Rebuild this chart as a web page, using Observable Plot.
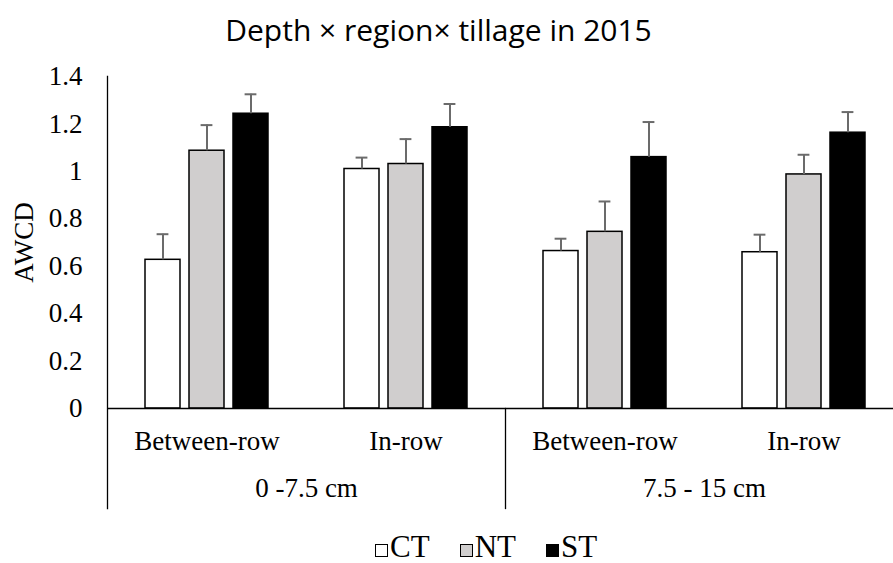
<!DOCTYPE html>
<html><head><meta charset="utf-8">
<script src="https://cdn.jsdelivr.net/npm/d3@7"></script>
<script src="https://cdn.jsdelivr.net/npm/@observablehq/plot@0.6"></script>
<style>
body{margin:0;background:#fff;overflow:hidden}
#wrap{position:relative;width:893px;height:563px;overflow:hidden;background:#fff}
#title{position:absolute;left:-8px;width:893px;top:10px;text-align:center;font-family:"Open Sans",sans-serif;font-size:30px;color:#000;line-height:40px}
#chart{position:absolute;left:0;top:56px}
#legend{position:absolute;top:533px;left:375px;display:flex;align-items:center;font-family:"Liberation Serif","Times New Roman",serif;font-size:31px;color:#000;line-height:28px;height:28px}
.item{display:flex;align-items:center;margin-right:30px}
.sw{width:13px;height:13px;border:1px solid #000;margin-right:2px;box-sizing:border-box;position:relative;top:3px}
</style></head>
<body>
<div id="wrap">
<div id="title">Depth × region× tillage in 2015</div>
<div id="chart"></div>
<div id="legend"></div>
</div>
<script>
const depths = ["0 -7.5 cm", "7.5 - 15 cm"];
const regions = ["Between-row", "In-row"];
const tillages = ["CT", "NT", "ST"];
const fills = ["#ffffff", "#d0cece", "#000000"];
const CT = [0.627, 1.010, 0.664, 0.659];
const NT = [1.087, 1.031, 0.745, 0.987];
const ST = [1.243, 1.186, 1.060, 1.163];
const CT_err = [0.108, 0.048, 0.052, 0.074];
const NT_err = [0.108, 0.105, 0.128, 0.083];
const ST_err = [0.082, 0.098, 0.148, 0.087];
const yTicks = [0, 0.2, 0.4, 0.6, 0.8, 1, 1.2, 1.4];
const yTickLabels = ["0", "0.2", "0.4", "0.6", "0.8", "1", "1.2", "1.4"];

const series = {CT, NT, ST};
const errs = {CT: CT_err, NT: NT_err, ST: ST_err};
const groups = [];
const regionOf = {};
depths.forEach(d => regions.forEach(r => { const k = d + "|" + r; groups.push(k); regionOf[k] = r; }));
const rows = [];
groups.forEach((g, i) => tillages.forEach(t => rows.push({group: g, tillage: t, value: series[t][i], upper: series[t][i] + errs[t][i]})));
const depthRows = depths.map((d, i) => ({group: groups[i * 2], depth: d}));

const chart = Plot.plot({
  width: 893, height: 470,
  marginLeft: 106, marginRight: -10, marginTop: 20, marginBottom: 118,
  style: {fontFamily: '"Liberation Serif","Times New Roman",serif', fontSize: "27px", color: "#000", background: "transparent"},
  fx: {domain: groups, padding: 0, axis: "bottom", tickSize: 0, tickPadding: 22, tickFormat: g => regionOf[g], label: null},
  x: {domain: tillages, axis: null, paddingInner: 0.2, paddingOuter: 0.85},
  y: {domain: [0, 1.4], ticks: yTicks, tickFormat: d => yTickLabels[yTicks.indexOf(d)], tickSize: 0, tickPadding: 25, label: "AWCD", labelArrow: "none", labelAnchor: "center", labelOffset: 94},
  color: {domain: tillages, range: fills},
  marks: [
    Plot.barY(rows, {fx: "group", x: "tillage", y: "value", fill: "tillage", stroke: "#000", strokeWidth: 1.5}),
    Plot.ruleX(rows, {fx: "group", x: "tillage", y1: "value", y2: "upper", stroke: "#6b6b6b", strokeWidth: 2}),
    Plot.tickY(rows, {fx: "group", x: "tillage", y: "upper", stroke: "#6b6b6b", strokeWidth: 2, insetLeft: 11.6, insetRight: 11.6}),
    Plot.ruleY([0], {stroke: "#000", strokeWidth: 1.3}),
    Plot.frame({anchor: "left", fx: [groups[0]], insetBottom: -100, stroke: "#000", strokeWidth: 1.3}),
    Plot.frame({anchor: "left", fx: [groups[2]], insetTop: 332, insetBottom: -100, stroke: "#000", strokeWidth: 1.3}),
    Plot.text(depthRows, {fx: "group", text: "depth", frameAnchor: "bottom-right", textAnchor: "middle", dy: 88})
  ]
});
document.getElementById("chart").appendChild(chart);

const legend = d3.select("#legend");
tillages.forEach((t, i) => {
  const it = legend.append("div").attr("class", "item");
  it.append("div").attr("class", "sw").style("background", fills[i]);
  it.append("span").text(t);
});
</script>
</body></html>
